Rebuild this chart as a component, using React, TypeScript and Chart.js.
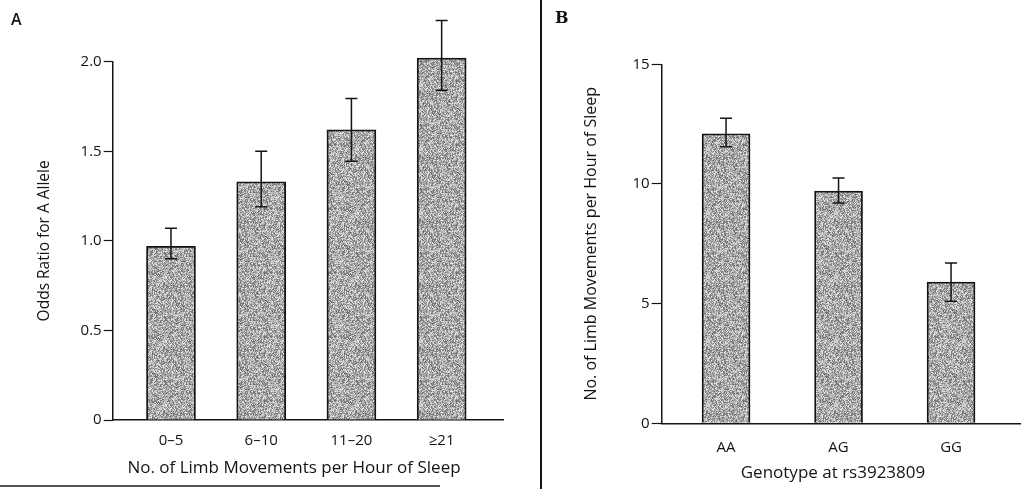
import React, { useEffect, useRef } from "react";
import { Chart, registerables } from "chart.js";

Chart.register(...registerables);

// ---------- Panel A data ----------
const limbCategories = ["0–5", "6–10", "11–20", "≥21"];
const oddsRatio = [0.97, 1.33, 1.62, 2.02];
const oddsLow = [0.9, 1.19, 1.445, 1.84];
const oddsHigh = [1.07, 1.5, 1.795, 2.23];
const oddsTicks = [0, 0.5, 1.0, 1.5, 2.0];
const oddsTickLabels = ["0", "0.5", "1.0", "1.5", "2.0"];

// ---------- Panel B data ----------
const genotypes = ["AA", "AG", "GG"];
const limbMovements = [12.1, 9.7, 5.9];
const limbLow = [11.55, 9.2, 5.1];
const limbHigh = [12.75, 10.25, 6.7];
const limbTicks = [0, 5, 10, 15];
const limbTickLabels = ["0", "5", "10", "15"];

const FONT = "'Open Sans', 'DejaVu Sans', sans-serif";
const INK = "#141414";

function makeStipple(): CanvasPattern | string {
  const c = document.createElement("canvas");
  c.width = 64;
  c.height = 64;
  const g = c.getContext("2d");
  if (!g) return "#aaaaaa";
  const img = g.createImageData(64, 64);
  for (let i = 0; i < 64 * 64; i++) {
    let h = Math.imul(i + 1, 2654435761) >>> 0;
    h ^= h >>> 15;
    h = Math.imul(h, 2246822519) >>> 0;
    h ^= h >>> 13;
    const n = (h & 255) / 255;
    const v = Math.round(105 + n * 130);
    img.data[i * 4] = v;
    img.data[i * 4 + 1] = v;
    img.data[i * 4 + 2] = v;
    img.data[i * 4 + 3] = 255;
  }
  g.putImageData(img, 0, 0);
  return g.createPattern(c, "repeat") || "#aaaaaa";
}

type PanelProps = {
  categories: string[];
  values: number[];
  lows: number[];
  highs: number[];
  yMax: number;
  yTicks: number[];
  yTickLabels: string[];
  xMin: number;
  xMax: number;
  yTitle: string;
  xTitle: string;
  width: number;
  height: number;
  areaLeft: number;
  areaRight: number;
  areaTop: number;
  areaBottom: number;
  yTitleCenter: number;
  yTitleSize: number;
  xTitleX: number;
  xTitleY: number;
  xTickPad: number;
  tickLen: number;
  barWidth: number;
};

function BarPanel(p: PanelProps) {
  const ref = useRef<HTMLCanvasElement | null>(null);
  useEffect(() => {
    if (!ref.current) return;
    const errorBars = {
      id: "errorBars",
      afterDatasetsDraw(chart: any) {
        const ctx = chart.ctx;
        const xs = chart.scales.x;
        const ys = chart.scales.y;
        ctx.save();
        ctx.strokeStyle = INK;
        ctx.lineWidth = 1.5;
        p.values.forEach((_, i) => {
          const x = xs.getPixelForValue(i);
          const yh = ys.getPixelForValue(p.highs[i]);
          const yl = ys.getPixelForValue(p.lows[i]);
          ctx.beginPath();
          ctx.moveTo(x, yh);
          ctx.lineTo(x, yl);
          ctx.moveTo(x - 6, yh);
          ctx.lineTo(x + 6, yh);
          ctx.moveTo(x - 6, yl);
          ctx.lineTo(x + 6, yl);
          ctx.stroke();
        });
        ctx.restore();
      },
      afterDraw(chart: any) {
        const ctx = chart.ctx;
        ctx.save();
        ctx.fillStyle = INK;
        ctx.font = `17px ${FONT}`;
        ctx.textAlign = "center";
        ctx.textBaseline = "middle";
        ctx.fillText(p.xTitle, p.xTitleX, p.xTitleY);
        ctx.restore();
      },
    };
    const chart = new Chart(ref.current, {
      type: "bar",
      data: {
        datasets: [
          {
            data: p.values.map((v, i) => ({ x: i, y: v })),
            backgroundColor: makeStipple() as any,
            borderColor: INK,
            borderWidth: 1.8,
            barThickness: p.barWidth,
            clip: false as any,
          },
        ],
      },
      options: {
        animation: false,
        responsive: false,
        maintainAspectRatio: false,
        layout: {
          padding: {
            left: 0,
            top: p.areaTop,
            right: p.width - p.areaRight,
            bottom: 0,
          },
        },
        plugins: {
          legend: { display: false },
          tooltip: { enabled: false },
        },
        scales: {
          x: {
            type: "linear",
            offset: false,
            min: p.xMin,
            max: p.xMax,
            afterBuildTicks: (s: any) => {
              s.ticks = p.categories.map((_, i) => ({ value: i }));
            },
            afterFit: (s: any) => {
              s.height = p.height - p.areaBottom;
            },
            grid: { display: false, offset: false },
            border: { display: true, color: INK, width: 1.5 },
            ticks: {
              color: INK,
              font: { family: FONT, size: 15 },
              padding: p.xTickPad,
              autoSkip: false,
              maxRotation: 0,
              callback: (v: any) => p.categories[Math.round(Number(v))] ?? "",
            },
          },
          y: {
            type: "linear",
            min: 0,
            max: p.yMax,
            afterBuildTicks: (s: any) => {
              s.ticks = p.yTicks.map((v) => ({ value: v }));
            },
            afterFit: (s: any) => {
              s.width = p.areaLeft;
            },
            grid: {
              display: true,
              drawOnChartArea: false,
              drawTicks: true,
              tickLength: p.tickLen,
              tickWidth: 1.2,
              color: INK,
            },
            border: { display: true, color: INK, width: 1.5 },
            ticks: {
              color: INK,
              font: { family: FONT, size: 15 },
              padding: 2,
              callback: (v: any) => {
                const idx = p.yTicks.indexOf(Number(v));
                return idx >= 0 ? p.yTickLabels[idx] : "";
              },
            },
            title: {
              display: true,
              text: p.yTitle,
              color: INK,
              font: { family: FONT, size: p.yTitleSize, lineHeight: 1.2 },
              padding: { top: p.yTitleCenter - (p.yTitleSize * 1.2) / 2, bottom: 0 },
            },
          },
        },
      },
      plugins: [errorBars],
    });
    return () => chart.destroy();
  }, []);
  return <canvas ref={ref} width={p.width} height={p.height} style={{ width: p.width, height: p.height, display: "block" }} />;
}

export default function App() {
  return (
    <div
      style={{
        position: "fixed",
        left: 0,
        top: 0,
        width: 1025,
        height: 489,
        background: "#ffffff",
        overflow: "hidden",
        fontFamily: FONT,
      }}
    >
      <div style={{ position: "absolute", left: 0, top: 0 }}>
        <BarPanel
          categories={limbCategories}
          values={oddsRatio}
          lows={oddsLow}
          highs={oddsHigh}
          yMax={2.0}
          yTicks={oddsTicks}
          yTickLabels={oddsTickLabels}
          xMin={-0.646}
          xMax={3.68}
          yTitle="Odds Ratio for A Allele"
          xTitle="No. of Limb Movements per Hour of Sleep"
          width={540}
          height={489}
          areaLeft={112.7}
          areaRight={503}
          areaTop={61.7}
          areaBottom={420}
          yTitleCenter={45}
          yTitleSize={15.5}
          xTitleX={294}
          xTitleY={468}
          xTickPad={4}
          tickLen={9}
          barWidth={49}
        />
      </div>
      <div style={{ position: "absolute", left: 543, top: 0 }}>
        <BarPanel
          categories={genotypes}
          values={limbMovements}
          lows={limbLow}
          highs={limbHigh}
          yMax={15}
          yTicks={limbTicks}
          yTickLabels={limbTickLabels}
          xMin={-0.572}
          xMax={2.613}
          yTitle="No. of Limb Movements per Hour of Sleep"
          xTitle="Genotype at rs3923809"
          width={482}
          height={489}
          areaLeft={118.7}
          areaRight={477}
          areaTop={64.3}
          areaBottom={423.3}
          yTitleCenter={48.7}
          yTitleSize={16}
          xTitleX={290}
          xTitleY={473}
          xTickPad={7}
          tickLen={10}
          barWidth={48}
        />
      </div>
      <div style={{ position: "absolute", left: 540, top: 0, width: 1.5, height: 489, background: INK }} />
      <div style={{ position: "absolute", left: 0, top: 485, width: 440, height: 1.5, background: "#555" }} />
      <div style={{ position: "absolute", left: 11, top: 8, fontSize: 16, fontWeight: 600, color: INK }}>A</div>
      <div style={{ position: "absolute", left: 555, top: 8, fontSize: 16, fontWeight: 700, color: INK, fontFamily: "'DejaVu Serif', serif" }}>B</div>
    </div>
  );
}
